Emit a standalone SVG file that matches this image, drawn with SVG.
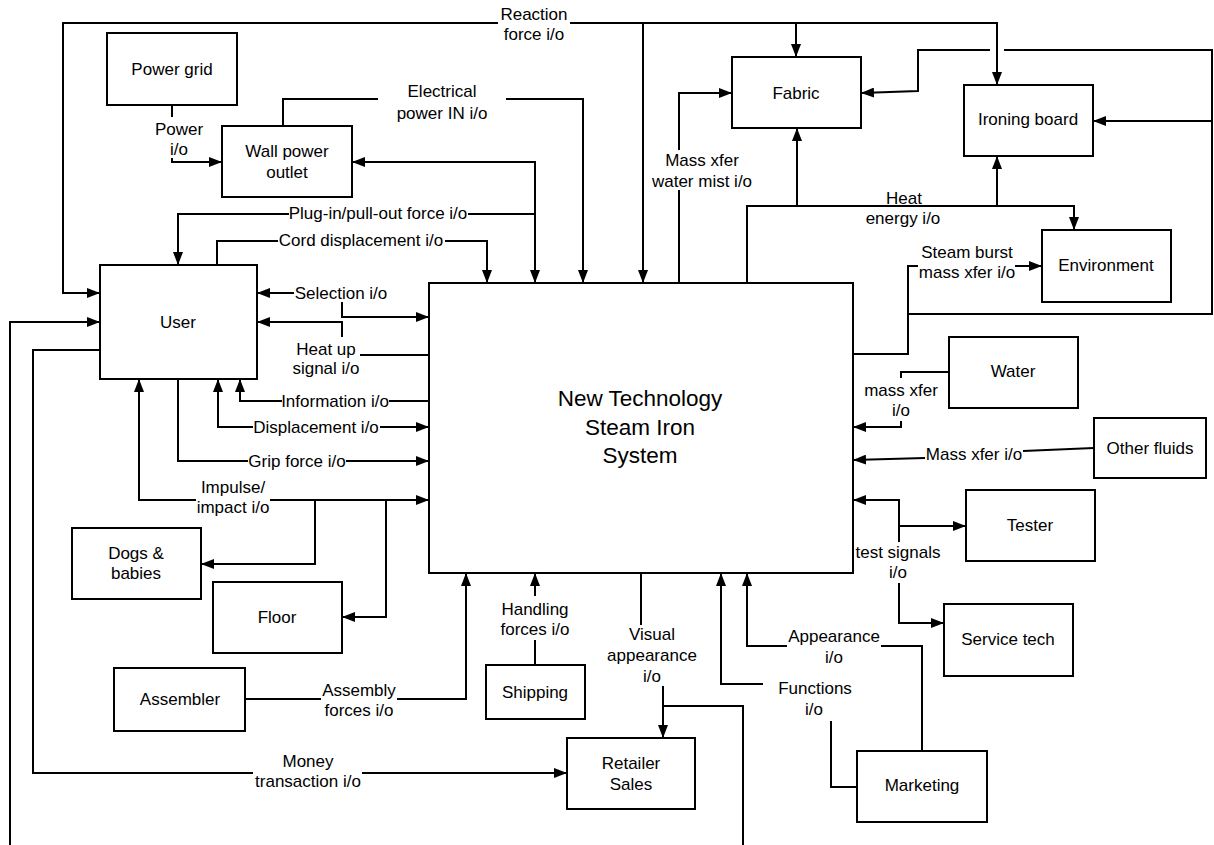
<svg xmlns="http://www.w3.org/2000/svg" width="1214" height="845" viewBox="0 0 1214 845">
<style>
.n rect{fill:#fff;stroke:#000;stroke-width:2}
text{font-family:"Liberation Sans",Arial,Helvetica,sans-serif;font-size:17px;fill:#000;text-anchor:middle}
.big{font-size:22.5px}
#connectors path{fill:none;stroke:#000;stroke-width:2}
.a{marker-end:url(#ah)}
.b{marker-start:url(#ah);marker-end:url(#ah)}
</style>
<defs>
<marker id="ah" viewBox="0 0 13 10" refX="13" refY="5" markerWidth="13" markerHeight="10" orient="auto-start-reverse" markerUnits="userSpaceOnUse"><path d="M0,0 L13,5 L0,10 z" fill="#000"/></marker>
</defs>
<rect width="1214" height="845" fill="#fff"/>
<g id="connectors">
<path class="a" d="M498,23 H63 V293 H100"/>
<path class="a" d="M570,23 H997 V85"/>
<path class="a" d="M643,23 V283"/>
<path class="a" d="M796,23 V57"/>
<path d="M918,266 H908 V354 H853"/>
<path class="a" d="M1015,266 H1042"/>
<path d="M908,314 H1212 V50 H1004"/>
<path class="a" d="M990,50 H918 V91 L861,93"/>
<path class="a" d="M1212,121 H1093"/>
<path class="a" d="M747,283 V206 H1074 V230"/>
<path class="a" d="M797,206 V128"/>
<path class="a" d="M997,206 V156"/>
<path d="M679,283 V190"/>
<path class="a" d="M679,150 V93 H732"/>
<path d="M283,126 V99 H378"/>
<path class="a" d="M506,99 H583 V283"/>
<path class="b" d="M352,162 H535 V283"/>
<path d="M535,214 H468"/>
<path class="a" d="M289,214 H178 V265"/>
<path d="M217,265 V241 H278"/>
<path class="a" d="M445,241 H487 V283"/>
<path d="M172,105 V117"/>
<path class="a" d="M172,158 V162 H222"/>
<path class="a" d="M294,293 H257"/>
<path class="a" d="M342,302 V317 H429"/>
<path class="a" d="M342,337 V322 H257"/>
<path d="M360,355 H429"/>
<path d="M429,401 H389"/>
<path class="a" d="M282,401 H240 V379"/>
<path class="a" d="M253,427 H218 V379"/>
<path class="a" d="M380,427 H429"/>
<path d="M178,379 V461 H248"/>
<path class="a" d="M346,461 H429"/>
<path class="a" d="M196,500 H139 V379"/>
<path class="a" d="M270,500 H429"/>
<path class="a" d="M315,500 V564 H201"/>
<path class="a" d="M386,500 V617 H342"/>
<path class="a" d="M10,845 V322 H100"/>
<path d="M100,350 H33 V773 H253"/>
<path class="a" d="M362,773 H567"/>
<path d="M245,699 H321"/>
<path class="a" d="M397,699 H466 V573"/>
<path d="M535,665 V640"/>
<path class="a" d="M535,596 V573"/>
<path d="M641,573 V625"/>
<path class="a" d="M663,686 V738"/>
<path d="M663,706 H743 V845"/>
<path class="a" d="M763,684 H721 V573"/>
<path d="M831,721 V787 H857"/>
<path class="a" d="M787,646 H747 V573"/>
<path d="M881,646 H922 V751"/>
<path d="M949,372 H901 V378"/>
<path class="a" d="M901,421 V427 H853"/>
<path d="M1094,448 L1023,451"/>
<path class="a" d="M925,458 L853,460"/>
<path class="a" d="M899,542 V500 H853"/>
<path class="a" d="M899,526 H966"/>
<path class="a" d="M899,583 V623 H944"/>
</g>
<g id="labels">
<text x="534" y="20">Reaction</text><text x="534" y="40">force i/o</text>
<text x="442" y="97">Electrical</text><text x="442" y="119">power IN i/o</text>
<text x="179" y="135">Power</text><text x="179" y="155">i/o</text>
<text x="378" y="219">Plug-in/pull-out force i/o</text>
<text x="361" y="246">Cord displacement i/o</text>
<text x="702" y="166">Mass xfer</text><text x="702" y="187">water mist i/o</text>
<text x="904" y="204">Heat</text><text x="903" y="224">energy i/o</text>
<text x="967" y="258">Steam burst</text><text x="967" y="278">mass xfer i/o</text>
<text x="341" y="299">Selection i/o</text>
<text x="326" y="355">Heat up</text><text x="326" y="374">signal i/o</text>
<text x="335" y="407">Information i/o</text>
<text x="316" y="433">Displacement i/o</text>
<text x="297" y="467">Grip force i/o</text>
<text x="233" y="493">Impulse/</text><text x="233" y="513">impact i/o</text>
<text x="359" y="696">Assembly</text><text x="359" y="716">forces i/o</text>
<text x="308" y="767">Money</text><text x="308" y="787">transaction i/o</text>
<text x="535" y="615">Handling</text><text x="535" y="635">forces i/o</text>
<text x="652" y="640">Visual</text><text x="652" y="661">appearance</text><text x="652" y="682">i/o</text>
<text x="834" y="642">Appearance</text><text x="834" y="663">i/o</text>
<text x="815" y="694">Functions</text><text x="814" y="715">i/o</text>
<text x="901" y="396">mass xfer</text><text x="901" y="416">i/o</text>
<text x="974" y="460">Mass xfer i/o</text>
<text x="898" y="558">test signals</text><text x="898" y="578">i/o</text>
</g>
<g id="main" class="n"><rect x="429" y="283" width="424" height="290"/><text class="big" x="640" y="406">New Technology</text><text class="big" x="640" y="435">Steam Iron</text><text class="big" x="640" y="463">System</text></g>
<g id="power-grid" class="n"><rect x="107" y="33" width="130" height="72"/><text x="172" y="75">Power grid</text></g>
<g id="wall-outlet" class="n"><rect x="222" y="126" width="130" height="71"/><text x="287" y="157">Wall power</text><text x="287" y="178">outlet</text></g>
<g id="user" class="n"><rect x="100" y="265" width="157" height="114"/><text x="178" y="328">User</text></g>
<g id="fabric" class="n"><rect x="732" y="57" width="129" height="71"/><text x="796" y="99">Fabric</text></g>
<g id="ironing-board" class="n"><rect x="964" y="85" width="129" height="71"/><text x="1028" y="125">Ironing board</text></g>
<g id="environment" class="n"><rect x="1042" y="230" width="129" height="72"/><text x="1106" y="271">Environment</text></g>
<g id="water" class="n"><rect x="949" y="337" width="129" height="71"/><text x="1013" y="377">Water</text></g>
<g id="other-fluids" class="n"><rect x="1094" y="418" width="112" height="60"/><text x="1150" y="454">Other fluids</text></g>
<g id="tester" class="n"><rect x="966" y="490" width="129" height="71"/><text x="1030" y="531">Tester</text></g>
<g id="service-tech" class="n"><rect x="944" y="604" width="129" height="72"/><text x="1008" y="645">Service tech</text></g>
<g id="marketing" class="n"><rect x="857" y="751" width="130" height="71"/><text x="922" y="791">Marketing</text></g>
<g id="retailer" class="n"><rect x="567" y="738" width="128" height="71"/><text x="631" y="769">Retailer</text><text x="631" y="790">Sales</text></g>
<g id="shipping" class="n"><rect x="486" y="665" width="99" height="54"/><text x="535" y="698">Shipping</text></g>
<g id="assembler" class="n"><rect x="114" y="668" width="131" height="63"/><text x="180" y="705">Assembler</text></g>
<g id="floor" class="n"><rect x="213" y="582" width="129" height="71"/><text x="277" y="623">Floor</text></g>
<g id="dogs" class="n"><rect x="72" y="528" width="129" height="71"/><text x="136" y="559">Dogs &amp;</text><text x="136" y="579">babies</text></g>
</svg>
